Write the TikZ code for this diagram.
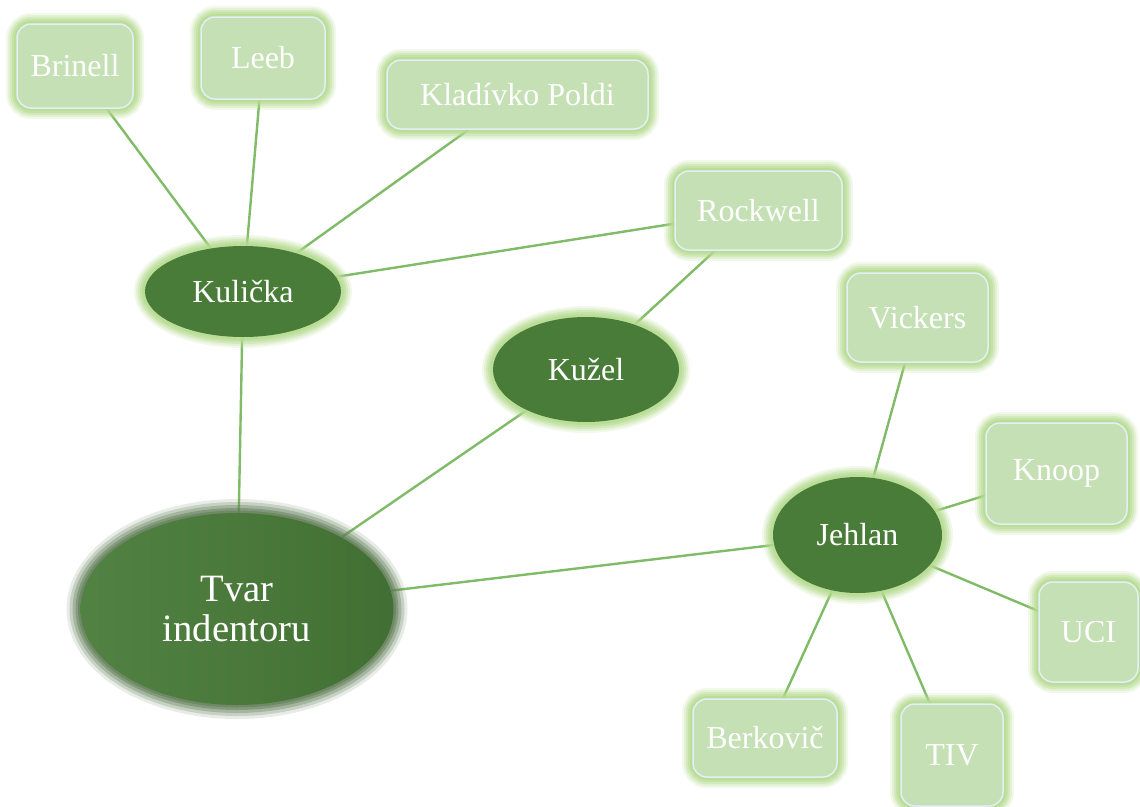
\documentclass[tikz,border=0pt]{standalone}
\usepackage{fontspec}
\setmainfont{Liberation Serif}
\usetikzlibrary{shapes.geometric,backgrounds}
\newlength\pxu \setlength\pxu{0.75pt}
\definecolor{boxfill}{RGB}{197,224,180}
\definecolor{glowc}{RGB}{182,219,145}
\definecolor{ellfill}{RGB}{73,124,57}
\definecolor{linkcol}{RGB}{128,188,104}
\definecolor{boxedge}{RGB}{228,238,248}
\definecolor{darkglow}{RGB}{100,128,90}
\tikzset{
  softglow/.style={
    preaction={draw=#1, line width=22\pxu, opacity=0.18},
    preaction={draw=#1, line width=18\pxu, opacity=0.25},
    preaction={draw=#1, line width=14\pxu, opacity=0.35},
    preaction={draw=#1, line width=10\pxu, opacity=0.5},
    preaction={draw=#1, line width=6\pxu, opacity=0.7}},
  leaf/.style={rectangle, rounded corners=14\pxu, fill=boxfill, draw=boxedge,
    line width=1.5\pxu, text=white, font=\fontsize{24}{28}\selectfont, inner sep=0pt,
    softglow=glowc},
  hub/.style={ellipse, fill=ellfill, text=white, font=\fontsize{24}{28}\selectfont, inner sep=0pt,
    softglow=glowc},
  rootnode/.style={ellipse, left color=ellfill!95!white, middle color=ellfill!70!black,
    right color=ellfill!90!black, text=white, align=center,
    font=\fontsize{29}{30}\selectfont, inner sep=0pt,
    preaction={draw=darkglow, line width=28\pxu, opacity=0.15},
    preaction={draw=darkglow, line width=22\pxu, opacity=0.25},
    preaction={draw=darkglow, line width=16\pxu, opacity=0.35},
    preaction={draw=darkglow, line width=10\pxu, opacity=0.5},
    preaction={draw=darkglow, line width=5\pxu, opacity=0.65}},
  link/.style={draw=linkcol, line width=2.4\pxu}
}
\begin{document}
\begin{tikzpicture}[x=0.75pt, y=-0.75pt]
\useasboundingbox (0,0) rectangle (1140,807);
% leaves
\node[leaf, minimum width=116\pxu, minimum height=84\pxu] (brinell) at (75,66) {Brinell};
\node[leaf, minimum width=124\pxu, minimum height=82\pxu] (leeb) at (263,58) {Leeb};
\node[leaf, minimum width=261\pxu, minimum height=69\pxu] (kladivko) at (517.5,94.5) {Kladívko Poldi};
\node[leaf, minimum width=167\pxu, minimum height=79\pxu] (rockwell) at (758.5,210.5) {Rockwell};
\node[leaf, minimum width=141\pxu, minimum height=89\pxu] (vickers) at (917.5,317.5) {Vickers};
\node[leaf, minimum width=141\pxu, minimum height=101\pxu] (knoop) at (1056.5,473.5) {Knoop};
\node[leaf, minimum width=99\pxu, minimum height=100\pxu] (uci) at (1088.5,632) {UCI};
\node[leaf, minimum width=102\pxu, minimum height=102\pxu] (tiv) at (952,755) {TIV};
\node[leaf, minimum width=144\pxu, minimum height=78\pxu] (berkovic) at (765,738) {Berkovič};
% hubs
\node[hub, minimum width=196\pxu, minimum height=91\pxu] (kulicka) at (243,291.5) {Kulička};
\node[hub, minimum width=186\pxu, minimum height=105\pxu] (kuzel) at (586,369.5) {Kužel};
\node[hub, minimum width=169\pxu, minimum height=116\pxu] (jehlan) at (857.5,535) {Jehlan};
\node[rootnode, minimum width=313\pxu, minimum height=192\pxu] (tvar) at (237,609) {Tvar\\indentoru};
% links
\begin{pgfonlayer}{background}
\draw[link] (brinell) -- (kulicka);
\draw[link] (leeb) -- (kulicka);
\draw[link] (kladivko) -- (kulicka);
\draw[link] (rockwell) -- (kulicka);
\draw[link] (rockwell) -- (kuzel);
\draw[link] (kulicka) -- (tvar);
\draw[link] (kuzel) -- (tvar);
\draw[link] (jehlan) -- (tvar);
\draw[link] (vickers) -- (jehlan);
\draw[link] (knoop) -- (jehlan);
\draw[link] (uci) -- (jehlan);
\draw[link] (berkovic) -- (jehlan);
\draw[link] (tiv) -- (jehlan);
\end{pgfonlayer}
\end{tikzpicture}
\end{document}
